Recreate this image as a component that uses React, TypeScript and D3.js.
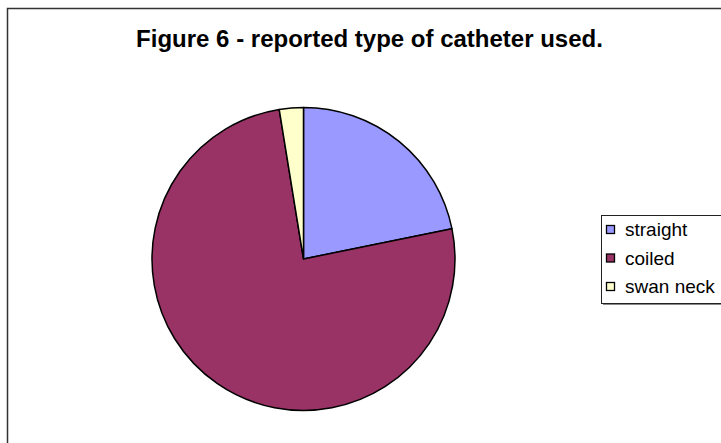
import React from 'react';
import * as d3 from 'd3';

const categories = ['straight', 'coiled', 'swan neck'];
const values = [17, 59, 2];
const colors = ['#9999FF', '#993366', '#FFFFCC'];
const title = 'Figure 6 - reported type of catheter used.';

const W = 721;
const H = 443;

const App: React.FC = () => {
  const cx = 303.5;
  const cy = 259;
  const r = 151.5;

  const pie = d3.pie<number>().sort(null).value(d => d);
  const arcs = pie(values);
  const arc = d3.arc<d3.PieArcDatum<number>>().innerRadius(0).outerRadius(r);

  // legend layout
  const legend = { x: 601, y: 215, w: 140, h: 88 };
  const rowY = d3.scalePoint<string>()
    .domain(categories)
    .range([229.5, 286.5]);

  return (
    <svg
      width={W}
      height={H}
      style={{ position: 'absolute', left: 0, top: 0, display: 'block', background: '#fff' }}
      fontFamily="'Liberation Sans', Arial, sans-serif"
    >
      {/* chart frame */}
      <rect x={7.5} y={8.5} width={740} height={460} fill="#fff" stroke="#333" strokeWidth={1.5} />

      <text x={369.5} y={47} textAnchor="middle" fontSize={24} fontWeight="bold" fill="#000">
        {title}
      </text>

      <g transform={`translate(${cx},${cy})`}>
        {arcs.map((a, i) => (
          <path key={categories[i]} d={arc(a) || ''} fill={colors[i]} stroke="#000" strokeWidth={1.5} strokeLinejoin="round" />
        ))}
      </g>

      {/* legend */}
      <rect x={legend.x + 2} y={legend.y + 2} width={legend.w} height={legend.h} fill="#888" />
      <rect x={legend.x + 0.5} y={legend.y + 0.5} width={legend.w} height={legend.h} fill="#fff" stroke="#222" strokeWidth={1} />
      {categories.map((c, i) => {
        const y = rowY(c) as number;
        return (
          <g key={c}>
            <rect x={606.5} y={y - 4} width={8} height={8} fill={colors[i]} stroke="#000" strokeWidth={1.3} />
            <text x={625} y={y + 6.5} fontSize={19} fill="#000">{c}</text>
          </g>
        );
      })}
    </svg>
  );
};

export default App;
